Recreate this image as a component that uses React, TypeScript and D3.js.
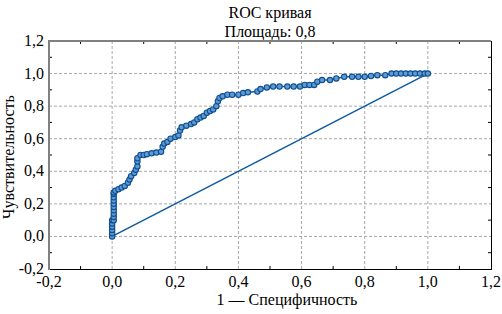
import React from "react";
import * as d3 from "d3";

const rocX = [
  0, 0, 0, 0, 0, 0,
  0.005, 0.005, 0.005, 0.005, 0.005, 0.005, 0.005, 0.005, 0.005, 0.005,
  0.01, 0.02, 0.03, 0.04, 0.05, 0.055, 0.06, 0.07, 0.075, 0.08, 0.08, 0.08,
  0.09, 0.1, 0.11, 0.125, 0.14, 0.155, 0.16, 0.165, 0.175, 0.185, 0.2, 0.21,
  0.215, 0.22, 0.235, 0.25, 0.26, 0.27, 0.28, 0.29, 0.3, 0.31, 0.32, 0.33,
  0.335, 0.34, 0.35, 0.365, 0.38, 0.4, 0.415, 0.43, 0.46, 0.47, 0.49, 0.51,
  0.53, 0.555, 0.575, 0.595, 0.61, 0.625, 0.64, 0.65, 0.665, 0.69, 0.71,
  0.735, 0.76, 0.78, 0.8, 0.82, 0.84, 0.865, 0.885, 0.9, 0.915, 0.93, 0.945,
  0.96, 0.975, 0.99, 1.0,
];
const rocY = [
  0, 0.02, 0.04, 0.06, 0.08, 0.1,
  0.1, 0.12, 0.14, 0.16, 0.18, 0.2, 0.22, 0.24, 0.26, 0.27,
  0.28, 0.29, 0.3, 0.31, 0.33, 0.35, 0.37, 0.39, 0.41, 0.43, 0.46, 0.48,
  0.5, 0.5, 0.505, 0.51, 0.515, 0.52, 0.55, 0.57, 0.58, 0.6, 0.61, 0.62,
  0.65, 0.67, 0.68, 0.69, 0.7, 0.72, 0.73, 0.74, 0.76, 0.77, 0.78, 0.8,
  0.83, 0.85, 0.86, 0.87, 0.87, 0.87, 0.88, 0.885, 0.89, 0.905, 0.915, 0.92,
  0.92, 0.92, 0.92, 0.92, 0.93, 0.93, 0.93, 0.95, 0.96, 0.96, 0.97,
  0.98, 0.98, 0.98, 0.98, 0.985, 0.99, 0.99, 1.0, 1.0, 1.0, 1.0, 1.0,
  1.0, 1.0, 1.0, 1.0,
];
const diagX = [0, 1];
const diagY = [0, 1];
const ticks = [-0.2, 0, 0.2, 0.4, 0.6, 0.8, 1.0, 1.2];
const minorTicks = [-0.1, 0.1, 0.3, 0.5, 0.7, 0.9, 1.1];
const titleLines = ["ROC кривая", "Площадь: 0,8"];
const xLabel = "1 — Специфичность";
const yLabel = "Чувствительность";

const W = 502, H = 314;
const L = 49, R = 491, T = 41, B = 269;
const font = "Liberation Serif, Tinos, Times New Roman, Times, DejaVu Serif, serif";
const lineColor = "#0f5aa0";
const fmt = (v: number) => d3.format(".1f")(v).replace(".", ",").replace("−", "-");
const ts: React.CSSProperties = { fontFamily: font, fontSize: "16px" };

export default function App() {
  const x = d3.scaleLinear().domain([-0.2, 1.2]).range([L, R]);
  const y = d3.scaleLinear().domain([-0.2, 1.2]).range([B, T]);
  const pts = rocX.map((v, i) => [v, rocY[i]] as [number, number]);
  const line = d3.line<[number, number]>().x(d => x(d[0])).y(d => y(d[1]));
  const diag = diagX.map((v, i) => [v, diagY[i]] as [number, number]);

  return (
    <svg width={W} height={H} style={{ position: "absolute", left: 0, top: 0, background: "#fff" }}>
      <rect width={W} height={H} fill="#fff" />
      {titleLines.map((t, i) => (
        <text key={t} x={(L + R) / 2} y={18 + i * 19} textAnchor="middle" style={ts} fill="#000">{t}</text>
      ))}
      {ticks.slice(1, -1).map(t => (
        <g key={"g" + t}>
          <line x1={x(t)} x2={x(t)} y1={T} y2={B} stroke="#a8a8a8" strokeDasharray="3,2" strokeWidth={1} />
          <line x1={L} x2={R} y1={y(t)} y2={y(t)} stroke="#a8a8a8" strokeDasharray="3,2" strokeWidth={1} />
        </g>
      ))}
      {minorTicks.map(t => (
        <g key={"m" + t} stroke="#000" strokeWidth={1}>
          <line x1={x(t)} x2={x(t)} y1={T} y2={T + 3} />
          <line x1={x(t)} x2={x(t)} y1={B} y2={B - 3} />
          <line x1={L} x2={L + 3} y1={y(t)} y2={y(t)} />
          <line x1={R} x2={R - 3} y1={y(t)} y2={y(t)} />
        </g>
      ))}
      <path d={line(diag) || ""} fill="none" stroke={lineColor} strokeWidth={1.5} />
      <path d={line(pts) || ""} fill="none" stroke={lineColor} strokeWidth={1.5} />
      {pts.map((p, i) => (
        <circle key={i} cx={x(p[0])} cy={y(p[1])} r={2.7} fill="#5d9ad6" stroke="#104f8e" strokeWidth={1.1} />
      ))}
      <line x1={R + 0.5} x2={R + 0.5} y1={T} y2={B} stroke="#000" strokeWidth={1} />
      <line x1={L} x2={R + 1} y1={B + 0.5} y2={B + 0.5} stroke="#000" strokeWidth={1} />
      <line x1={L - 1} x2={R} y1={T} y2={T} stroke="#808080" strokeWidth={2} />
      <line x1={L} x2={L} y1={T} y2={B + 1} stroke="#808080" strokeWidth={2} />
      {ticks.map(t => (
        <text key={"x" + t} x={x(t)} y={B + 18} textAnchor="middle" style={ts} fill="#000">{fmt(t)}</text>
      ))}
      {ticks.map(t => (
        <text key={"y" + t} x={L - 5} y={y(t) + 5} textAnchor="end" style={ts} fill="#000">{fmt(t)}</text>
      ))}
      <text x={287} y={305} textAnchor="middle" style={ts} fill="#000">{xLabel}</text>
      <text transform={`translate(14,157) rotate(-90)`} textAnchor="middle" style={ts} fill="#000">{yLabel}</text>
    </svg>
  );
}
